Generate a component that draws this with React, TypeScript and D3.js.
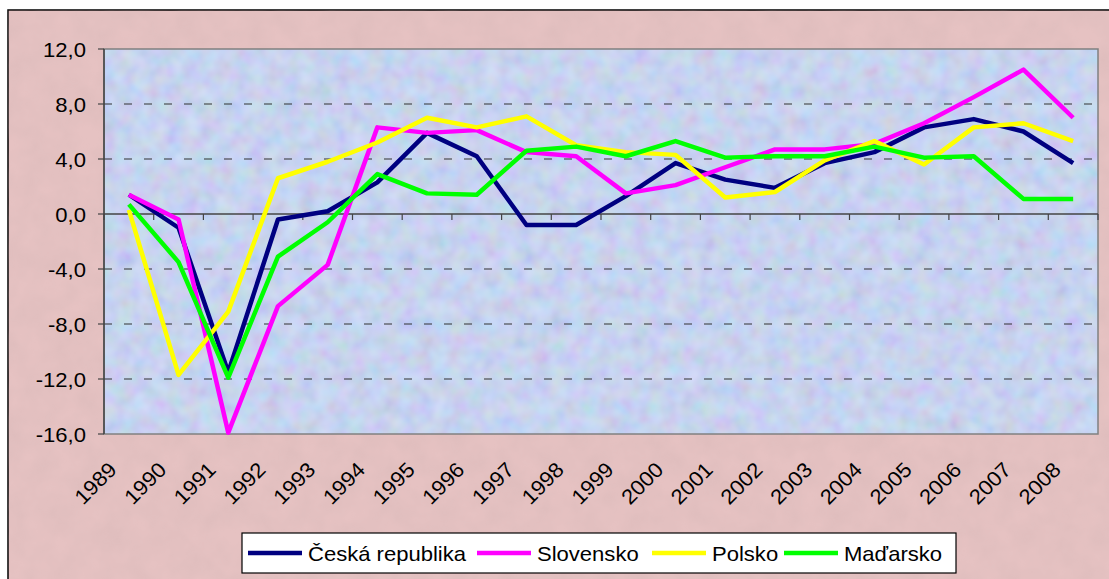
import React from "react";
import * as d3 from "d3";

const years = [
  "1989", "1990", "1991", "1992", "1993", "1994", "1995", "1996", "1997", "1998",
  "1999", "2000", "2001", "2002", "2003", "2004", "2005", "2006", "2007", "2008",
];

const cesko = [1.4, -1.0, -11.5, -0.4, 0.2, 2.3, 5.9, 4.2, -0.8, -0.8, 1.3, 3.7, 2.5, 1.9, 3.7, 4.5, 6.3, 6.9, 6.0, 3.7];
const slovensko = [1.4, -0.4, -15.9, -6.7, -3.7, 6.3, 5.9, 6.1, 4.5, 4.2, 1.5, 2.1, 3.4, 4.7, 4.7, 5.1, 6.6, 8.5, 10.5, 7.0];
const polsko = [0.3, -11.7, -7.1, 2.6, 3.8, 5.2, 7.0, 6.3, 7.1, 5.0, 4.5, 4.3, 1.2, 1.6, 3.9, 5.3, 3.6, 6.3, 6.6, 5.3];
const madarsko = [0.7, -3.5, -11.9, -3.1, -0.6, 2.9, 1.5, 1.4, 4.6, 4.9, 4.2, 5.3, 4.1, 4.2, 4.2, 4.9, 4.1, 4.2, 1.1, 1.1];

const seriesNames = ["Česká republika", "Slovensko", "Polsko", "Maďarsko"];
const seriesColors = ["#000080", "#ff00ff", "#ffff00", "#00ff00"];
const yTicks = [12, 8, 4, 0, -4, -8, -12, -16];

const W = 1109;
const H = 579;

export default function App() {
  const ref = React.useRef<SVGSVGElement>(null);

  React.useEffect(() => {
    const left = 104;
    const right = 1098;
    const top = 49;
    const bottom = 434;
    const font = "'Liberation Sans', Arial, sans-serif";
    const fs = 21;
    const sx = 1.05;

    const x = d3.scaleBand().domain(years).range([left, right]);
    const y = d3.scaleLinear().domain([-16, 12]).range([bottom, top]);

    const svg = d3.select(ref.current);
    svg.selectAll("*").remove();

    // textures
    const defs = svg.append("defs");
    const f1 = defs.append("filter").attr("id", "noisePink").attr("x", 0).attr("y", 0).attr("width", "100%").attr("height", "100%");
    f1.append("feTurbulence").attr("type", "fractalNoise").attr("baseFrequency", 0.04).attr("numOctaves", 3).attr("seed", 3);
    f1.append("feColorMatrix").attr("type", "matrix")
      .attr("values", "0 0 0 0 0.55  0 0 0 0 0.4  0 0 0 0 0.4  0 0 0 0.3 -0.07");
    f1.append("feComposite").attr("in2", "SourceGraphic").attr("operator", "in");

    const f2 = defs.append("filter").attr("id", "noiseBlue").attr("x", 0).attr("y", 0).attr("width", "100%").attr("height", "100%");
    f2.append("feTurbulence").attr("type", "fractalNoise").attr("baseFrequency", 0.06).attr("numOctaves", 2).attr("seed", 7);
    f2.append("feColorMatrix").attr("type", "matrix")
      .attr("values", "1.2 0 0 0 0  0 1.2 0 0 0  0 0 1.2 0 0.1  0 0 0 0 0.22");
    f2.append("feComposite").attr("in2", "SourceGraphic").attr("operator", "in");

    // chart area
    svg.append("rect").attr("x", 8).attr("y", 10).attr("width", W).attr("height", H)
      .attr("fill", "#e6c2c2").attr("stroke", "#000").attr("stroke-width", 1.5);
    svg.append("rect").attr("x", 8).attr("y", 10).attr("width", W).attr("height", H)
      .attr("fill", "#fff").attr("filter", "url(#noisePink)");

    // plot area
    svg.append("rect").attr("x", left).attr("y", top).attr("width", right - left).attr("height", bottom - top)
      .attr("fill", "#c6d5f5");
    svg.append("rect").attr("x", left).attr("y", top).attr("width", right - left).attr("height", bottom - top)
      .attr("fill", "#fff").attr("filter", "url(#noiseBlue)");
    svg.append("rect").attr("x", left).attr("y", top).attr("width", right - left).attr("height", bottom - top)
      .attr("fill", "none").attr("stroke", "#808080").attr("stroke-width", 1.5);

    // gridlines
    svg.append("g")
      .selectAll("line")
      .data(yTicks.filter((t) => t !== 0 && t !== 12 && t !== -16))
      .join("line")
      .attr("x1", left).attr("x2", right)
      .attr("y1", (d) => y(d)).attr("y2", (d) => y(d))
      .attr("stroke", "#333").attr("stroke-width", 1.2)
      .attr("stroke-dasharray", "8,12");

    // y axis
    svg.append("line").attr("x1", left).attr("x2", left).attr("y1", top).attr("y2", bottom)
      .attr("stroke", "#444").attr("stroke-width", 1.5);
    const yg = svg.append("g");
    yg.selectAll("line").data(yTicks).join("line")
      .attr("x1", left - 6).attr("x2", left)
      .attr("y1", (d) => y(d)).attr("y2", (d) => y(d))
      .attr("stroke", "#444").attr("stroke-width", 1.2);
    yg.selectAll("text").data(yTicks).join("text")
      .attr("transform", (d) => `translate(86,${y(d)}) scale(${sx},1)`)
      .attr("dy", "0.36em")
      .attr("text-anchor", "end")
      .attr("font-family", font).attr("font-size", fs)
      .attr("fill", "#000")
      .text((d) => d3.format(".1f")(d).replace(".", ",").replace("−", "-"));

    // x axis at zero
    svg.append("line").attr("x1", left).attr("x2", right).attr("y1", y(0)).attr("y2", y(0))
      .attr("stroke", "#444").attr("stroke-width", 1.5);
    const bounds = years.map((d) => x(d)!).concat([right]);
    svg.append("g").selectAll("line").data(bounds).join("line")
      .attr("x1", (d) => d).attr("x2", (d) => d)
      .attr("y1", y(0)).attr("y2", y(0) + 6)
      .attr("stroke", "#444").attr("stroke-width", 1.2);

    svg.append("g").selectAll("text").data(years).join("text")
      .attr("transform", (d) => `translate(${x(d)! + x.bandwidth() / 2 - 11},471) rotate(-45) scale(${sx},1)`)
      .attr("text-anchor", "end")
      .attr("font-family", font).attr("font-size", fs)
      .attr("fill", "#000")
      .text((d) => d);

    // lines
    const allSeries = [cesko, slovensko, polsko, madarsko];
    const line = d3.line<number>()
      .x((_, i) => x(years[i])! + x.bandwidth() / 2)
      .y((d) => y(d));
    svg.append("g").selectAll("path").data(allSeries).join("path")
      .attr("d", (d) => line(d))
      .attr("fill", "none")
      .attr("stroke", (_, i) => seriesColors[i])
      .attr("stroke-width", 4.5)
      .attr("stroke-linejoin", "round");

    // legend
    const lg = svg.append("g");
    lg.append("rect").attr("x", 242).attr("y", 533).attr("width", 714).attr("height", 40)
      .attr("fill", "#fff").attr("stroke", "#000").attr("stroke-width", 1.2);
    const itemX = [248, 477, 652, 784];
    seriesNames.forEach((name, i) => {
      lg.append("line").attr("x1", itemX[i]).attr("x2", itemX[i] + 54)
        .attr("y1", 553).attr("y2", 553)
        .attr("stroke", seriesColors[i]).attr("stroke-width", 4.5);
      lg.append("text")
        .attr("transform", `translate(${itemX[i] + 60},553) scale(${sx},1)`)
        .attr("dy", "0.36em")
        .attr("font-family", font).attr("font-size", fs).attr("fill", "#000")
        .text(name);
    });
  }, []);

  return (
    <svg
      ref={ref}
      width={W}
      height={H}
      style={{ position: "absolute", left: 0, top: 0, background: "#fff" }}
    ></svg>
  );
}
